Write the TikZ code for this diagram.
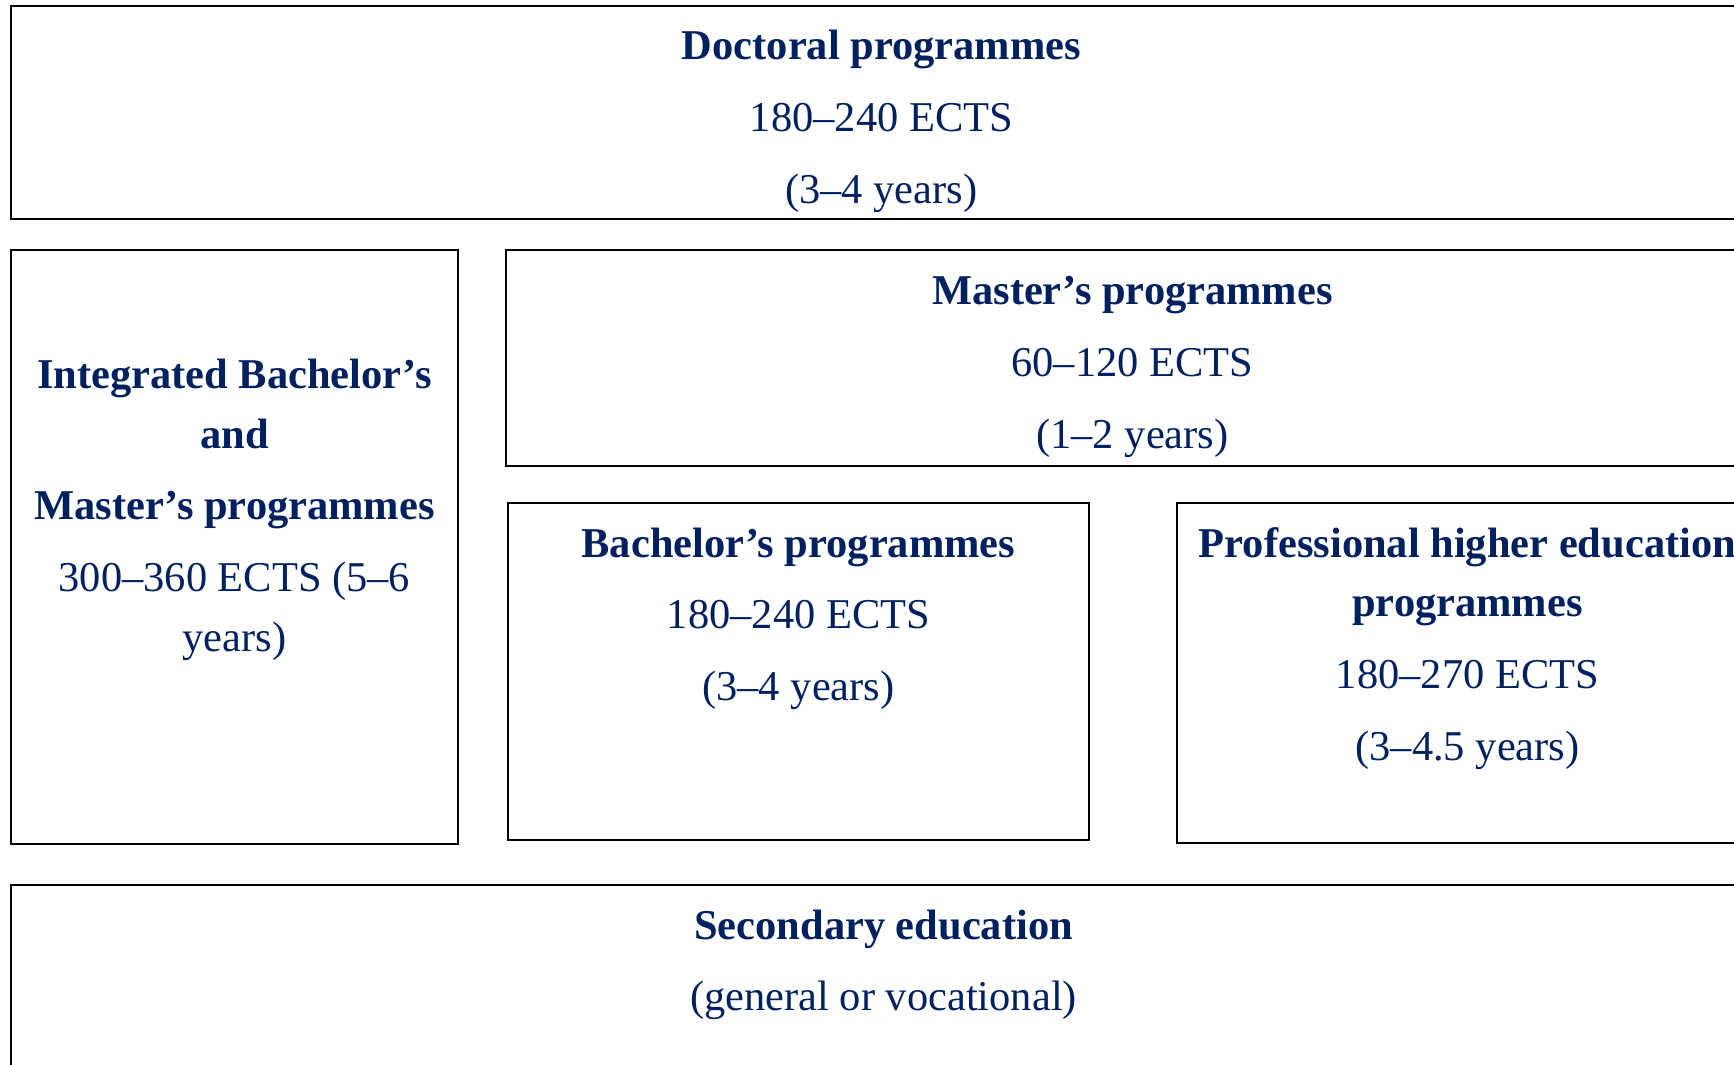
\documentclass[tikz,border=0pt]{standalone}
\usepackage{fontspec}
\setmainfont{Liberation Serif}
\usepackage{tikz}
\definecolor{ects_navy}{RGB}{0,32,96}

\begin{document}
\begin{tikzpicture}[x=0.5pt,y=-0.5pt,
                    box/.style={draw=black,line width=0.9pt},
                    label/.style={align=center,inner sep=0pt,text=ects_navy,
                        font=\fontsize{19.2}{27}\selectfont}]

                    \clip (0,0) rectangle (1568,963);

                    \draw[box] (10,5) rectangle (1590,198);
                    \draw[box] (10,226) rectangle (414,763);
                    \draw[box] (458,226) rectangle (1590,421);
                    \draw[box] (459,455) rectangle (985,760);
                    \draw[box] (1064,455) rectangle (1590,762);
                    \draw[box] (10,800) rectangle (1590,1000);

                    \node[label] (doctoral) at (797,109.5)
                    {\textbf{Doctoral programmes}\\[5.5pt] 180--240 ECTS\\[5.5pt] (3--4 years)};

                    \node[label] (integrated) at (212,461)
                    {\textbf{Integrated Bachelor’s}\\ \textbf{and}\\[5.5pt]
                     \textbf{Master’s programmes}\\[5.5pt] 300--360 ECTS (5--6\\ years)};

                    \node[label] (master) at (1024,331.5)
                    {\textbf{Master’s programmes}\\[5.5pt] 60--120 ECTS\\[5.5pt] (1--2 years)};

                    \node[label] (bachelor) at (722,559.5)
                    {\textbf{Bachelor’s programmes}\\[5.5pt] 180--240 ECTS\\[5.5pt] (3--4 years)};

                    \node[label] (professional) at (1327,586.5)
                    {\textbf{Professional higher education}\\ \textbf{programmes}\\[5.5pt]
                     180--270 ECTS\\[5.5pt] (3--4.5 years)};

                    \node[label] (secondary) at (799,872.5)
                    {\textbf{Secondary education}\\[5.5pt] (general or vocational)};
                \end{tikzpicture}
\end{document}
